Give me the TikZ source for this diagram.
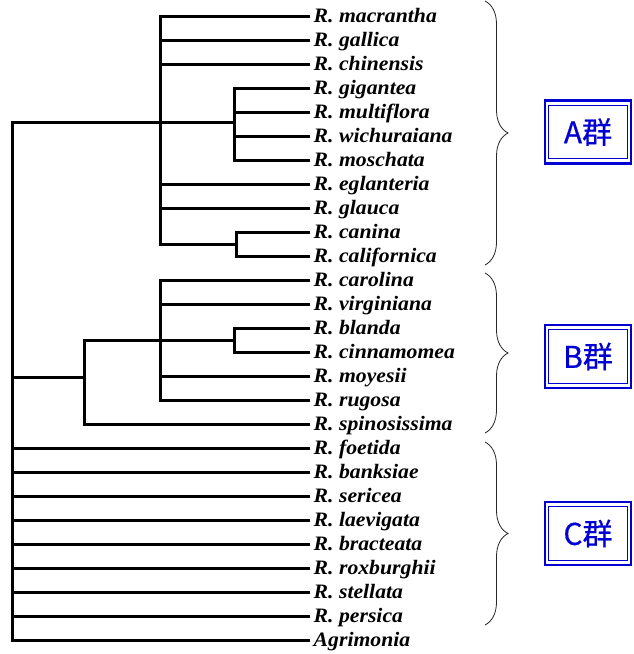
\documentclass[tikz,border=0pt]{standalone}
\usepackage{fontspec}
\setmainfont{Liberation Serif}[FakeStretch=1.06]
\newfontfamily\cjk{Noto Sans CJK JP}[FakeBold=0.6]
\usetikzlibrary{decorations.pathreplacing}
\definecolor{grpblue}{RGB}{0,0,210}
\begin{document}
\begin{tikzpicture}[x=1pt, y=-1pt,
        branch/.style={line width=3pt, line cap=rect},
        leaf/.style={anchor=west, inner xsep=5.5pt, inner ysep=0pt, text height=13.5pt, text depth=0pt,
            font=\fontsize{20.5}{20.5}\selectfont\bfseries\itshape},
        brc/.style={decorate, decoration={brace, amplitude=23pt}, line width=0.8pt, black!85},
        grp/.style={draw=grpblue, line width=2.6pt, minimum width=86pt, minimum height=63pt,
            text=grpblue, font=\cjk\fontsize{30}{30}\selectfont},
        grpin/.style={draw=grpblue, line width=1.2pt}]
    \useasboundingbox (0, 0) rectangle (633, 654);
    % leaves
    \foreach \nm/\lbl [count=\i from 0] in {mac/R. macrantha, gal/R. gallica, chi/R. chinensis,
            gig/R. gigantea, mul/R. multiflora, wic/R. wichuraiana, mos/R. moschata,
            egl/R. eglanteria, gla/R. glauca, can/R. canina, cal/R. californica,
            car/R. carolina, vir/R. virginiana, bla/R. blanda, cin/R. cinnamomea,
            moy/R. moyesii, rug/R. rugosa, spi/R. spinosissima,
            foe/R. foetida, ban/R. banksiae, ser/R. sericea, lae/R. laevigata,
            bra/R. bracteata, rox/R. roxburghii, ste/R. stellata, per/R. persica,
            agr/Agrimonia}
        \node[leaf] (\nm) at (308, {16+24*\i}) {\lbl};
    % inner nodes
    \coordinate (root) at (12, 122);
    \coordinate (nA) at (160, 122);
    \coordinate (nGig) at (234, 122);
    \coordinate (nCan) at (236, 244);
    \coordinate (nB) at (84, 377);
    \coordinate (nBi) at (160, 340);
    \coordinate (nBla) at (234, 340);
    % tree
    \draw[branch] (root) |- (nA) -- (nGig);
    \draw[branch] (root) |- (nB);
    \foreach \c in {foe, ban, ser, lae, bra, rox, ste, per, agr}
        \draw[branch] (root) |- (\c.west);
    \foreach \c in {mac, gal, chi, egl, gla}
        \draw[branch] (nA) |- (\c.west);
    \draw[branch] (nA) |- (nCan);
    \foreach \c in {gig, mul, wic, mos}
        \draw[branch] (nGig) |- (\c.west);
    \foreach \c in {can, cal}
        \draw[branch] (nCan) |- (\c.west);
    \draw[branch] (nB) |- (nBi) -- (nBla);
    \draw[branch] (nB) |- (spi.west);
    \foreach \c in {car, vir, moy, rug}
        \draw[branch] (nBi) |- (\c.west);
    \foreach \c in {bla, cin}
        \draw[branch] (nBla) |- (\c.west);
    % groups
    \draw[brc] (485, 1) -- (485, 265);
    \draw[brc] (485, 273) -- (485, 433);
    \draw[brc] (485, 442) -- (485, 625);
    \foreach \g/\y in {A/132, B/356.5, C/533.5} {
        \node[grp] (grp\g) at (588, \y) {\g 群};
        \draw[grpin] ([shift={(5, 6)}]grp\g.north west) rectangle ([shift={(-5, -6)}]grp\g.south east);
    }
\end{tikzpicture}
\end{document}
